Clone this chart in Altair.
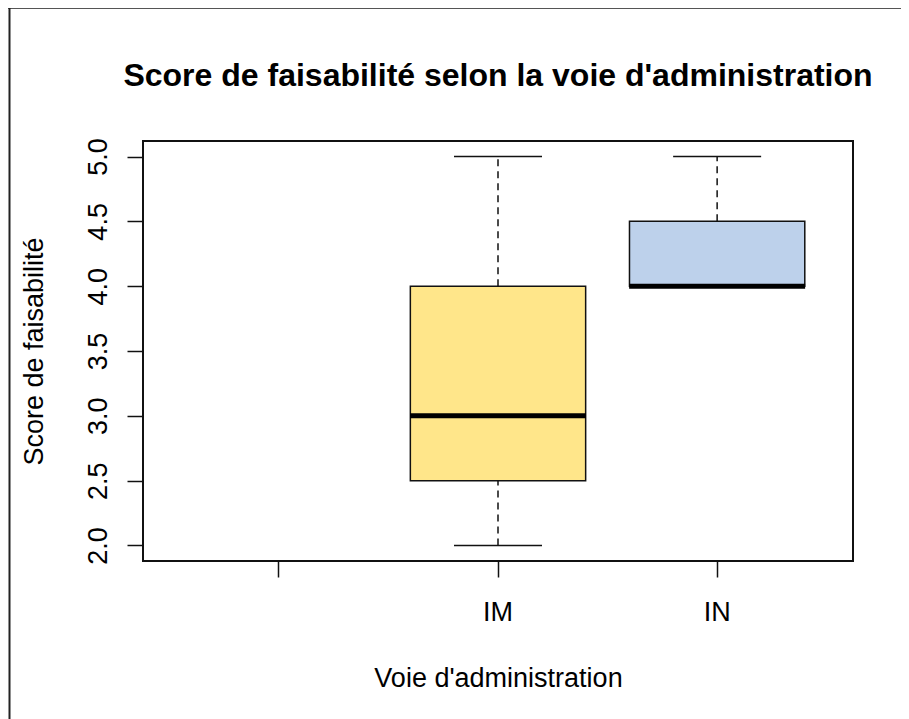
import altair as alt
import pandas as pd

# ---- data ----
categories = ["", "IM", "IN"]          # x-axis levels (first one is empty)
groups = ["IM", "IN"]
mins = [2.0, 4.0]
q1s = [2.5, 4.0]
medians = [3.0, 4.0]
q3s = [4.0, 4.5]
maxs = [5.0, 5.0]
fills = ["#FFE68A", "#BDD1EB"]
y_ticks = [2.0, 2.5, 3.0, 3.5, 4.0, 4.5, 5.0]

df = pd.DataFrame({"voie": groups, "min": mins, "q1": q1s, "med": medians,
                   "q3": q3s, "max": maxs})

FONT = "Liberation Sans"
W, H = 710, 420
PAD = {"left": 135, "top": 133, "right": 48, "bottom": 158}
INK = "#111111"

x_axis = alt.Axis(domain=False, grid=False, tickSize=16, tickWidth=1.5, tickColor=INK,
                  labelFont=FONT, labelFontSize=27, labelColor="black", labelPadding=22,
                  labelAngle=0, titleFont=FONT, titleFontSize=27, titleFontWeight="normal",
                  titleColor="black", titleX=355, titleY=125, titleBaseline="alphabetic",
                  titleAlign="center")
x_enc = alt.X("voie:N", scale=alt.Scale(domain=categories, paddingInner=0, paddingOuter=0.12),
              axis=x_axis, title="Voie d'administration")

y_scale = alt.Scale(domain=[1.88, 5.12], nice=False, zero=False)
y_axis = alt.Axis(values=y_ticks, format=".1f", domain=False, grid=False, tickSize=16,
                  tickWidth=1.5, tickColor=INK, labelFont=FONT, labelFontSize=27,
                  labelColor="black", labelAngle=270, labelAlign="center",
                  labelBaseline="alphabetic", labelPadding=21, titleFont=FONT,
                  titleFontSize=27, titleFontWeight="normal", titleColor="black",
                  titleAngle=270, titleX=-101, titleY=210, titleBaseline="alphabetic",
                  titleAlign="center")


def y_enc(field):
    return alt.Y(f"{field}:Q", scale=y_scale, axis=y_axis, title="Score de faisabilité")


base = alt.Chart(df)

upper_whisker = base.mark_rule(strokeDash=[7, 5], strokeWidth=1.5, color=INK).encode(
    x=x_enc, y=y_enc("q3"), y2="max:Q")
lower_whisker = base.mark_rule(strokeDash=[7, 5], strokeWidth=1.5, color=INK).encode(
    x=x_enc, y=y_enc("min"), y2="q1:Q")
cap_top = base.mark_tick(size=88, thickness=1.5, color=INK, opacity=1).encode(
    x=x_enc, y=y_enc("max"))
cap_bottom = base.mark_tick(size=88, thickness=1.5, color=INK, opacity=1).encode(
    x=x_enc, y=y_enc("min"))
box = base.mark_bar(width=alt.RelativeBandSize(0.8), stroke=INK, strokeWidth=1.5,
                    opacity=1).encode(
    x=x_enc, y=y_enc("q1"), y2="q3:Q",
    fill=alt.Fill("voie:N", scale=alt.Scale(domain=groups, range=fills), legend=None))
median = base.mark_tick(size=176, thickness=5, color="black", opacity=1).encode(
    x=x_enc, y=y_enc("med"))

# outer device frame (top and left edges visible in the reference)
frame_df = pd.DataFrame({"k": [0]})
frame_top = alt.Chart(frame_df).mark_rule(color="#555555", strokeWidth=2).encode(
    x=alt.value(-PAD["left"]), x2=alt.value(W + PAD["right"]), y=alt.value(-PAD["top"]))
frame_left = alt.Chart(frame_df).mark_rule(color="#222222", strokeWidth=2).encode(
    x=alt.value(-PAD["left"] + 1.5), y=alt.value(-PAD["top"]), y2=alt.value(H + PAD["bottom"]))

chart = alt.layer(
    frame_top, frame_left, upper_whisker, lower_whisker, cap_top, cap_bottom, box, median
).properties(
    width=W, height=H,
    title=alt.TitleParams(text="Score de faisabilité selon la voie d'administration",
                          font=FONT, fontSize=32, fontWeight="bold", color="black",
                          anchor="middle", frame="group", baseline="alphabetic", offset=-111),
    autosize=alt.AutoSizeParams(type="none"),
    padding=PAD,
    background="white",
).configure_view(stroke=INK, strokeWidth=2)

chart.save("out.html", embed_options={"renderer": "svg", "actions": False})
